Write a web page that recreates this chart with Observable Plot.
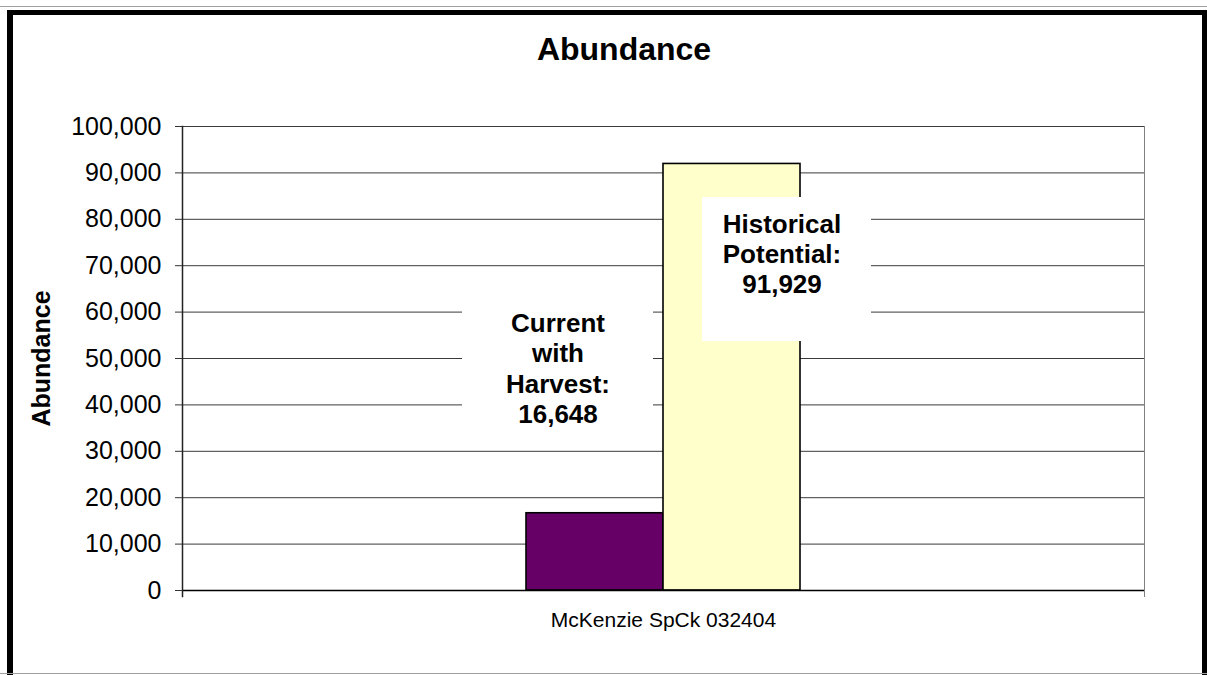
<!DOCTYPE html>
<html>
<head>
<meta charset="utf-8">
<script src="https://cdn.jsdelivr.net/npm/d3@7"></script>
<script src="https://cdn.jsdelivr.net/npm/@observablehq/plot@0.6"></script>
<style>
  html, body { margin: 0; padding: 0; background: #fff; overflow: hidden; }
  body { width: 1207px; height: 675px; position: relative; font-family: "Liberation Sans", Arial, sans-serif; }
  #title { height: 90px; box-sizing: border-box; padding-top: 33px; padding-left: 41px; text-align: center;
           font-size: 32px; line-height: 32px; font-weight: bold; color: #000; }
  #border { position: absolute; left: 7px; top: 10px; width: 1200px; height: 700px; box-sizing: border-box;
            border-left: 6px solid #000; border-top: 5px solid #000; border-right: 5px solid #000; pointer-events: none; }
  #topline { position: absolute; left: 0; top: 6px; width: 1207px; height: 1px; background: #a0a0a0; }
  #botline { position: absolute; left: 0; top: 673px; width: 1207px; height: 1px; background: #a0a0a0; }
  #chart svg { display: block; }
</style>
</head>
<body>
<div id="topline"></div>
<div id="title">Abundance</div>
<div id="chart"></div>
<div id="border"></div>
<div id="botline"></div>
<script>
// ---- data ----
const sites = ["McKenzie SpCk 032404"];
const series = ["Current with Harvest", "Historical Potential"];
const seriesLabels = ["Current\nwith\nHarvest:", "Historical\nPotential:"];
const values = [16648, 91929];
const colors = ["#660066", "#FFFFCC"];
const yTicks = [0, 10000, 20000, 30000, 40000, 50000, 60000, 70000, 80000, 90000, 100000];

const fmt = d3.format(",");
const data = series.map((s, i) => ({
  site: sites[0],
  series: s,
  value: values[i],
  label: seriesLabels[i] + "\n" + fmt(values[i])
}));
const cur = data.filter(d => d.series === series[0]);
const hist = data.filter(d => d.series === series[1]);

const chart = Plot.plot({
  width: 1207,
  height: 585,
  marginLeft: 182,
  marginRight: 63,
  marginTop: 36,
  marginBottom: 85,
  style: { fontFamily: "'Liberation Sans', Arial, sans-serif", fontSize: "24px", color: "#000", background: "transparent" },
  fx: { domain: sites, padding: 0, axis: null, label: null },
  x: { domain: series, padding: 0, insetLeft: 344, insetRight: 344, axis: null },
  y: { domain: [0, 100000], axis: null },
  color: { domain: series, range: colors },
  marks: [
    Plot.frame({ stroke: "#808080" }),
    Plot.gridY(yTicks, { stroke: "#3a3a3a", strokeOpacity: 1, strokeWidth: 1 }),
    Plot.frame({ anchor: "right", stroke: "#808080", insetBottom: -6 }),
    Plot.barY(data, { fx: "site", x: "series", y: "value", fill: "series", stroke: "#000", strokeWidth: 1.6 }),
    // white label boxes (annotation backgrounds)
    Plot.barY(cur, { fx: "site", x: "series", y1: 31900, y2: 63150, fill: "#fff", insetLeft: -64, insetRight: 10 }),
    Plot.barY(hist, { fx: "site", x: "series", y1: 53660, y2: 84700, fill: "#fff", insetLeft: 39, insetRight: -71 }),
    Plot.text(cur, { fx: "site", x: "series", y: 48000, text: "label", dx: -37, fontSize: 26, fontWeight: "bold",
                     lineHeight: 1.17, lineAnchor: "middle", textAnchor: "middle", fill: "#000" }),
    Plot.text(hist, { fx: "site", x: "series", y: 72700, text: "label", dx: 50, fontSize: 26, fontWeight: "bold",
                      lineHeight: 1.17, lineAnchor: "middle", textAnchor: "middle", fill: "#000" }),
    Plot.ruleY([0], { stroke: "#000", strokeWidth: 1.5 }),
    Plot.frame({ anchor: "left", stroke: "#222", strokeWidth: 1.5, insetBottom: -6 }),
    Plot.axisY(yTicks, { tickSize: 7, tickPadding: 14, tickFormat: fmt, fontSize: 25, label: null, stroke: "#333" }),
    Plot.axisFx({ anchor: "bottom", tickSize: 0, tickPadding: 22, fontSize: 21, label: null }),
    Plot.text(["Abundance"], { frameAnchor: "left", rotate: -90, dx: -141, fontSize: 25, fontWeight: "bold",
                               textAnchor: "middle", lineAnchor: "middle", facetAnchor: "left" })
  ]
});
document.getElementById("chart").appendChild(chart);
</script>
</body>
</html>
